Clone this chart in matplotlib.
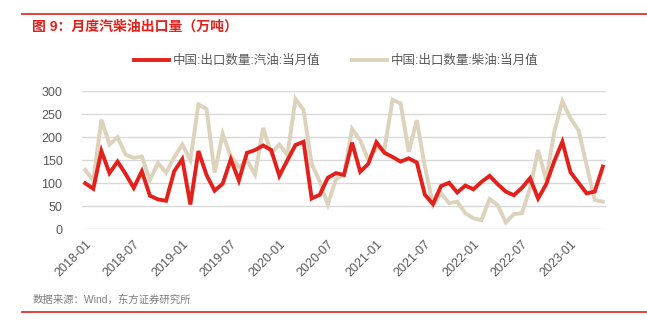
import numpy as np
import matplotlib
matplotlib.use("Agg")
from matplotlib import pyplot as plt
from matplotlib.lines import Line2D

plt.rcParams["font.family"] = ["Liberation Sans", "Noto Sans CJK SC", "DejaVu Sans"]

months = [f"{y}-{m:02d}" for y in range(2018, 2024) for m in range(1, 13)][:65]

gasoline = [100, 88, 170, 122, 147, 120, 90, 126, 73, 65, 62, 126,
            152, 54, 170, 118, 84, 99, 152, 106, 166, 172, 182, 172,
            116, 150, 183, 190, 67, 75, 112, 122, 118, 188, 125, 142,
            189, 166, 157, 147, 154, 145, 75, 55, 94, 101, 80, 95,
            87, 103, 116, 98, 82, 74, 90, 111, 67, 98, 148, 190,
            124, 101, 78, 82, 136]

diesel = [129, 106, 238, 184, 200, 162, 155, 158, 107, 144, 123, 156,
          184, 150, 271, 261, 123, 207, 158, 135, 150, 119, 220, 165,
          184, 161, 283, 259, 142, 104, 54, 109, 119, 218, 193, 151,
          176, 174, 281, 273, 168, 237, 136, 53, 78, 57, 60, 35,
          24, 20, 66, 53, 15, 33, 35, 89, 172, 107, 212, 278,
          241, 215, 139, 64, 60]

labels = ["中国:出口数量:汽油:当月值", "中国:出口数量:柴油:当月值"]
title = "图 9：月度汽柴油出口量（万吨）"
source = "数据来源：Wind，东方证券研究所"

red = "#e3201b"
beige = "#ddd3bc"
grey = "#595959"

fig = plt.figure(figsize=(6.47, 3.31), dpi=100)
ax = fig.add_axes([0.1267, 0.307, 0.81, 0.418])

x = np.arange(len(months))
ax.plot(x, diesel, color=beige, lw=2.8, solid_joinstyle="miter", zorder=2)
ax.plot(x, gasoline, color=red, lw=2.8, solid_joinstyle="miter", zorder=3)

ax.set_xlim(-0.4, len(months) - 0.6)
ax.set_ylim(0, 300)
ax.set_yticks(range(0, 301, 50))
ax.grid(axis="y", color="#d9d9d9", lw=1)
ax.set_axisbelow(True)
for s in ax.spines.values():
    s.set_visible(False)

ticks = x[::6]
ax.set_xticks(ticks)
ax.set_xticklabels([months[i] for i in ticks], rotation=45, ha="right",
                   rotation_mode="anchor")
ax.tick_params(axis="both", length=0, labelsize=9, colors=grey, pad=6)
ax.tick_params(axis="y", pad=14)

handles = [Line2D([], [], color=red, lw=2.8), Line2D([], [], color=beige, lw=2.8)]
fig.legend(handles, labels, loc="center", bbox_to_anchor=(0.52, 0.816), ncol=2,
           frameon=False, fontsize=9, labelcolor=grey, handlelength=2.8,
           handletextpad=0.3, columnspacing=2.5)

fig.text(0.05, 0.92, title, color=red, fontsize=10, fontweight="bold", va="center")
fig.add_artist(Line2D([0.034, 1.0], [0.958, 0.958], color=red, lw=1.2))
fig.text(0.05, 0.094, source, color="#7f7f7f", fontsize=7.5, va="center")
fig.add_artist(Line2D([0.034, 1.0], [0.057, 0.057], color=red, lw=1.2))

fig.savefig("out.png", dpi=100)
